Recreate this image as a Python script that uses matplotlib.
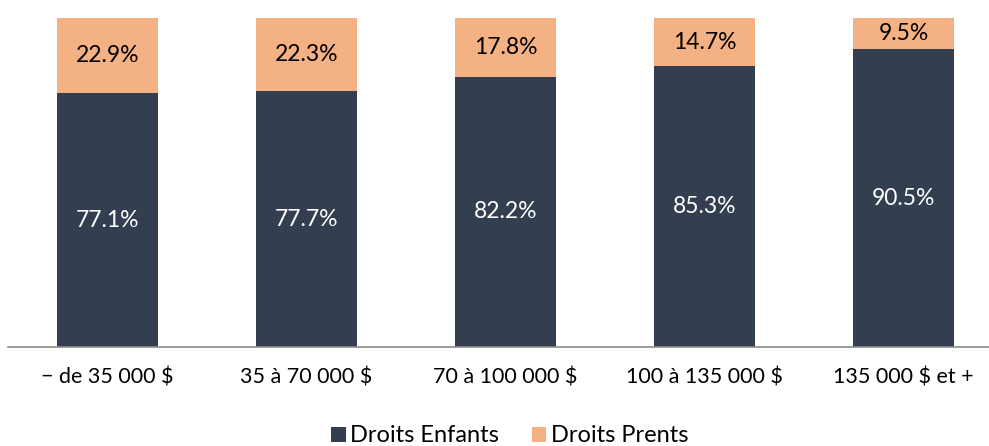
import matplotlib
matplotlib.use("Agg")
import matplotlib.pyplot as plt
import numpy as np

categories = ["\u2212 de 35 000 $", "35 \u00e0 70 000 $", "70 \u00e0 100 000 $", "100 \u00e0 135 000 $", "135 000 $ et +"]
enfants = [77.1, 77.7, 82.2, 85.3, 90.5]
parents = [22.9, 22.3, 17.8, 14.7, 9.5]
series_names = ["Droits Enfants", "Droits Prents"]

DARK = "#333F50"
PEACH = "#F4B183"

plt.rcParams["font.family"] = ["Lato", "DejaVu Sans"]

fig = plt.figure(figsize=(9.89, 4.46), dpi=100)
ax = fig.add_axes([8 / 989, 99 / 446, 995 / 989, 329 / 446])

x = np.arange(len(categories))
w = 0.51
ax.bar(x, enfants, w, color=DARK, label=series_names[0], zorder=2)
ax.bar(x, parents, w, bottom=enfants, color=PEACH, label=series_names[1], zorder=2)

for xi, e, p in zip(x, enfants, parents):
    ax.text(xi, e / 2, f"{e:.1f}%", ha="center", va="center", color="white", fontsize=16.5)
    ax.text(xi, e + p / 2, f"{p:.1f}%", ha="center", va="center", color="black", fontsize=16.5)

ax.set_xlim(-0.5, len(categories) - 0.5)
ax.set_ylim(0, 100)
ax.set_xticks(x)
ax.set_xticklabels(categories, fontsize=15.5)
ax.tick_params(axis="x", length=0, pad=15)
ax.set_yticks([])
for s in ["top", "right", "left"]:
    ax.spines[s].set_visible(False)
ax.spines["bottom"].set_color("#8C8C8C")
ax.spines["bottom"].set_linewidth(1.2)

fig.legend(loc="center", bbox_to_anchor=(510 / 989, 1 - 436 / 446), ncol=2, frameon=False,
           fontsize=17, handlelength=0.6, handleheight=0.6, handletextpad=0.2,
           columnspacing=1.4, borderpad=0)

fig.savefig("out.png", dpi=100)
